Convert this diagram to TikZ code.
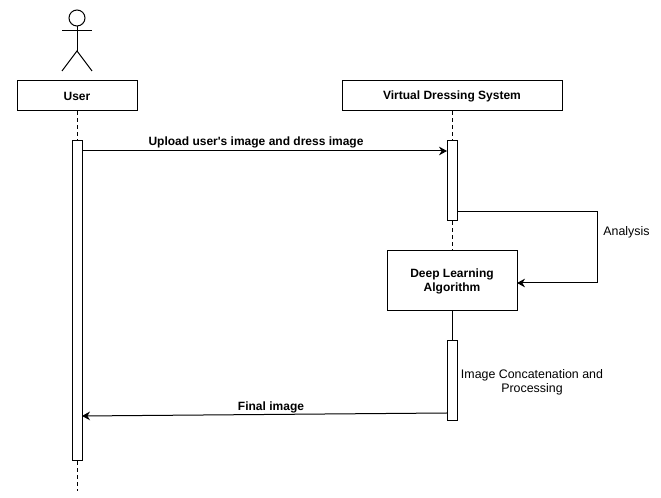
\documentclass[tikz,border=0pt]{standalone}
\usepackage{fontspec}
\setmainfont[Ligatures=TeXOff]{Liberation Sans}
\usetikzlibrary{arrows.meta}

\begin{document}
\begin{tikzpicture}[x=0.75pt,y=-0.75pt,line width=0.75pt,
  box/.style={draw,align=center,font=\fontsize{9}{10.5}\selectfont\bfseries},
  bar/.style={draw,fill=white,minimum width=7.5pt,inner sep=0pt},
  lifeline/.style={dashed,dash pattern=on 2.6pt off 2.6pt},
  message/.style={-{Stealth[length=6pt,width=6.5pt]}},
  caption/.style={align=center,inner sep=0pt,font=\fontsize{9.3}{10.5}\selectfont},
  boldcaption/.style={caption,font=\fontsize{9}{10.5}\selectfont\bfseries}]
  \useasboundingbox (0,-1) rectangle (661,497);
  \node[box,minimum width=90pt,minimum height=22.5pt] (userbox) at (77,95) {User};
  \node[box,minimum width=165pt,minimum height=22.5pt] (systembox) at (452,95) {Virtual Dressing System};
  \node[box,minimum width=97.5pt,minimum height=45pt] (deepbox) at (452,280) {Deep Learning\\Algorithm};
  \node[bar,minimum height=240pt] (userbar) at (77,300) {};
  \node[bar,minimum height=60pt] (systembar) at (452,180) {};
  \node[bar,minimum height=60pt] (concatbar) at (452,380) {};
  \node[draw,circle,minimum size=12pt,inner sep=0pt] (head) at (77,17) {};
  \coordinate (armleft) at (62,30);
  \coordinate (armright) at (92,30);
  \coordinate (hip) at (77,50);
  \coordinate (footleft) at (62,70);
  \coordinate (footright) at (92,70);
  \coordinate (userend) at (77,490);
  \coordinate (uploadstart) at (82,150);
  \coordinate (uploadend) at (447,150);
  \coordinate (analysisstart) at (457,211);
  \coordinate (analysisright) at (597,211);
  \coordinate (analysisdown) at (597,282);
  \coordinate (analysisend) at (517,282);
  \coordinate (finalstart) at (447,412);
  \coordinate (finalend) at (82,415);
  \draw (head) -- (hip);
  \draw (armleft) -- (armright);
  \draw (footleft) -- (hip) -- (footright);
  \draw[lifeline] (userbox) -- (userbar);
  \draw[lifeline] (userbar) -- (userend);
  \draw[lifeline] (systembox) -- (systembar);
  \draw[lifeline] (systembar) -- (deepbox);
  \draw (deepbox) -- (concatbar);
  \draw[message] (uploadstart) -- (uploadend);
  \draw[message] (analysisstart) -- (analysisright) -- (analysisdown) -- (analysisend);
  \draw[message] (finalstart) -- (finalend);
  \node[boldcaption] (uploadlabel) at (256,141) {Upload user's image and dress image};
  \node[caption] (analysislabel) at (626.5,231) {Analysis};
  \node[caption] (concatlabel) at (532,381) {Image Concatenation and\\Processing};
  \node[boldcaption] (finallabel) at (271,406) {Final image};
\end{tikzpicture}
\end{document}
